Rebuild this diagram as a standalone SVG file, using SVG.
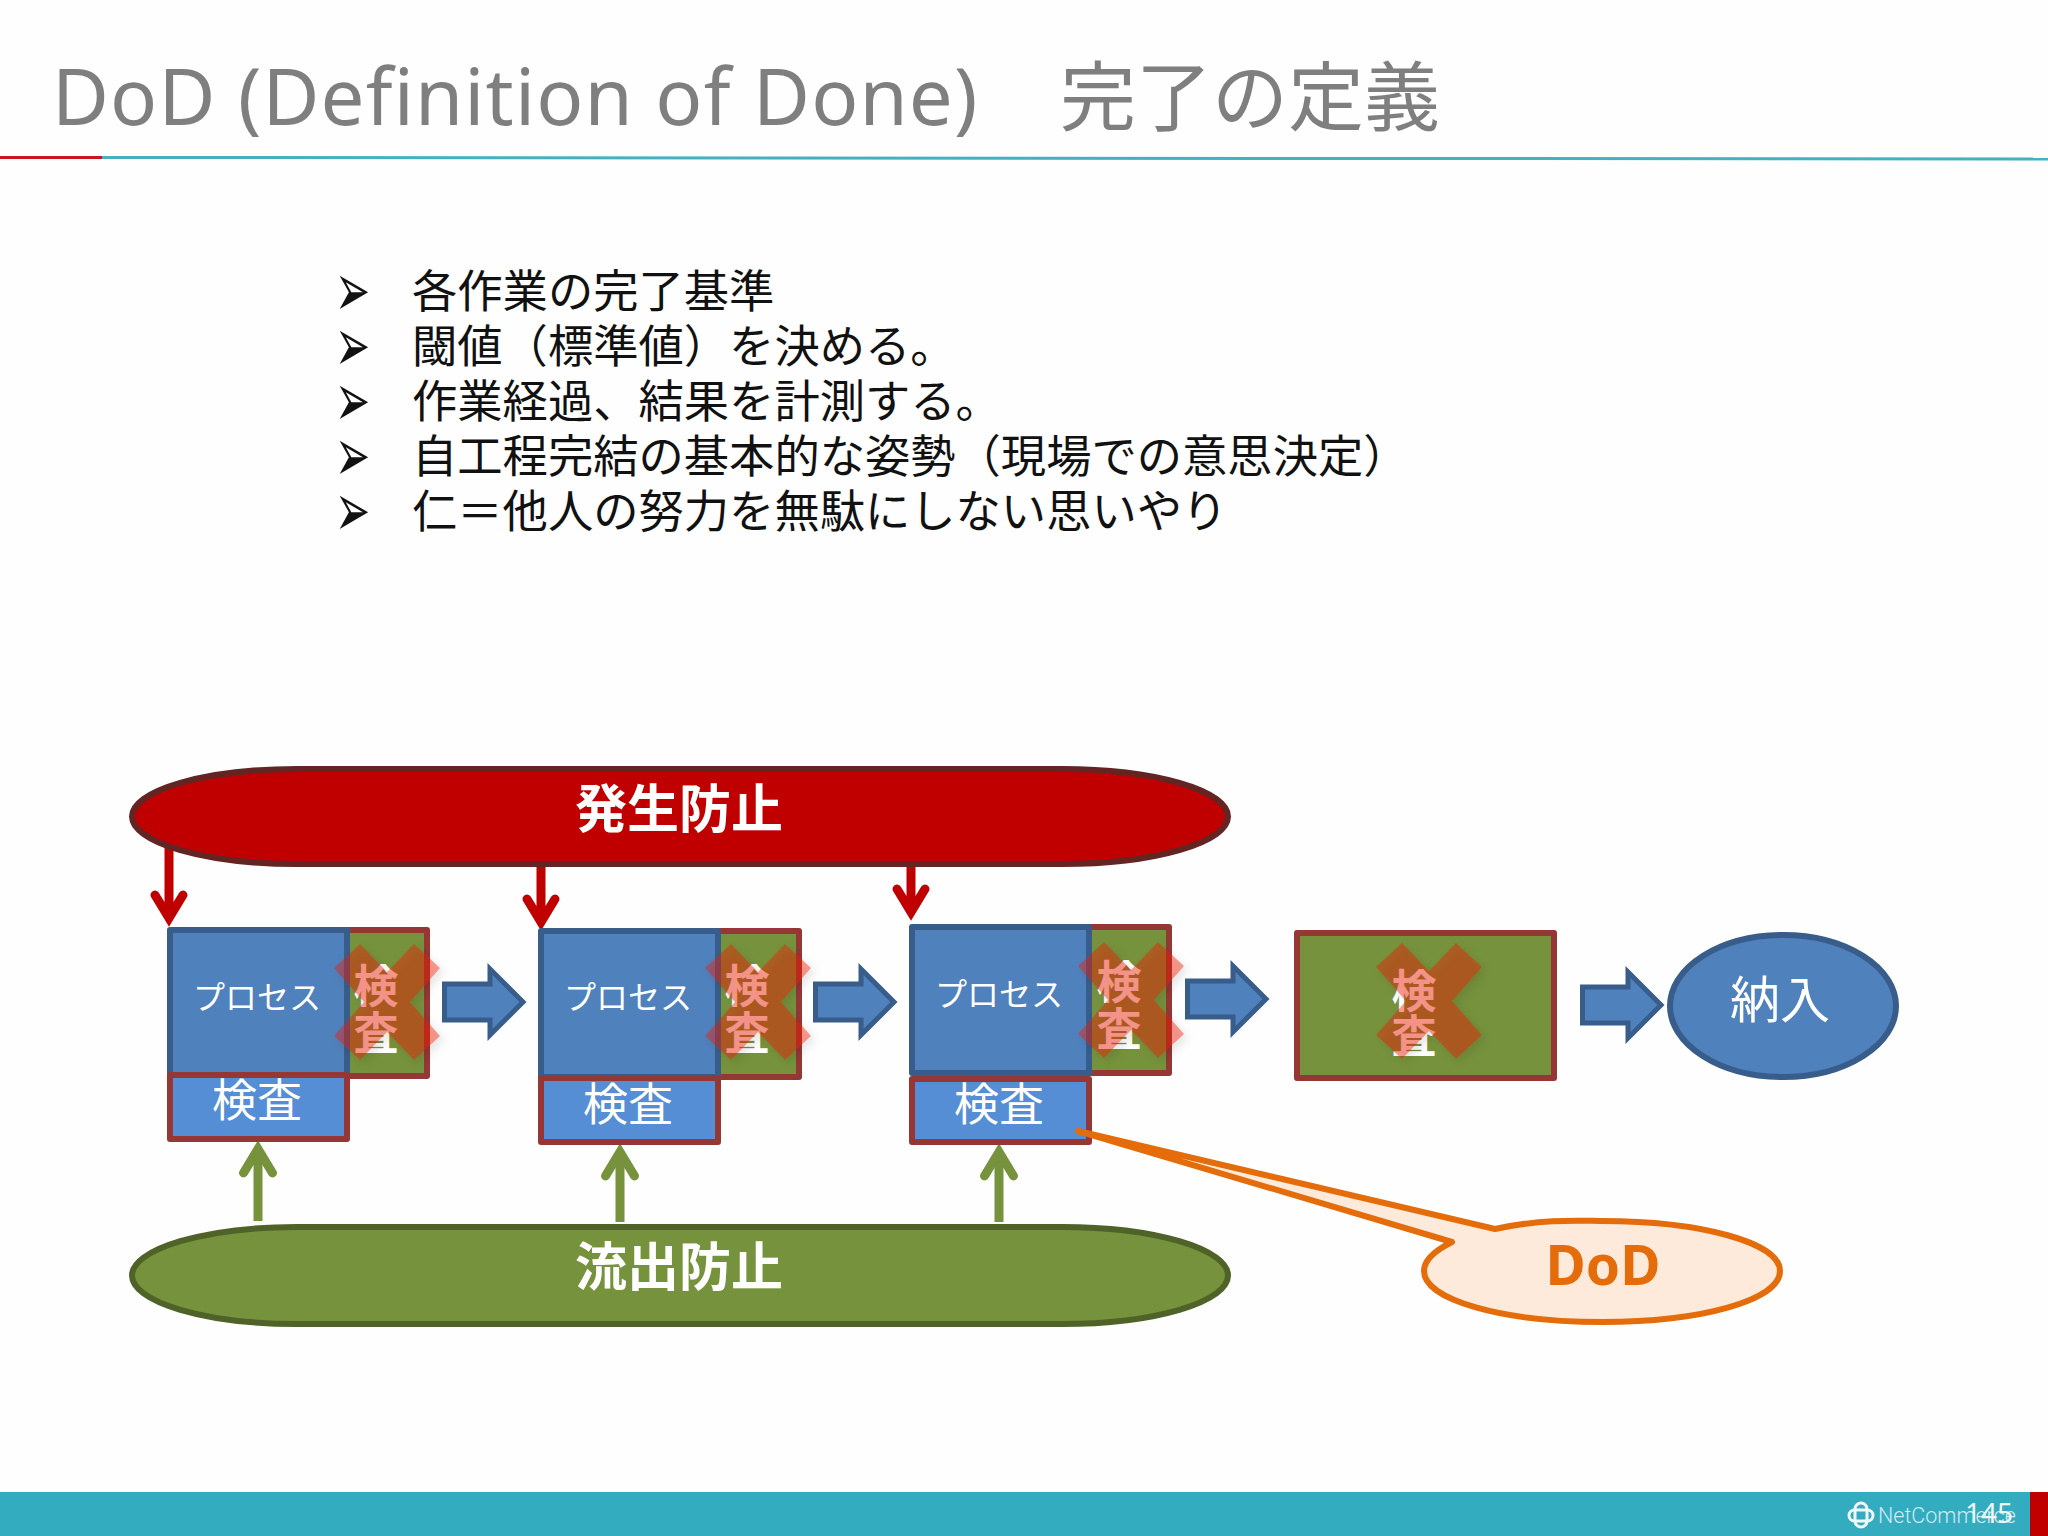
<svg xmlns="http://www.w3.org/2000/svg" width="2048" height="1536" viewBox="0 0 2048 1536">
<defs>
<style>
text{font-family:"Noto Sans","Noto Sans CJK JP",sans-serif}
.jp{font-family:"Noto Sans CJK JP","Noto Sans",sans-serif}
.bul{font-size:45.300px;fill:#111}
.mark{font-family:"DejaVu Sans",sans-serif;font-size:42px;fill:#111}
.c{text-anchor:middle;fill:#fff}
.proc{fill:#4f81bd;stroke:#385d8a;stroke-width:6;stroke-linejoin:round}
.insp{fill:#76923c;stroke:#953735;stroke-width:6;stroke-linejoin:round}
.small{fill:#558ed5;stroke:#953735;stroke-width:6;stroke-linejoin:round}
.block{fill:#4f81bd;stroke:#385d8a;stroke-width:5;stroke-linejoin:miter}
.red{fill:none;stroke:#c00000;stroke-width:9;stroke-linecap:round;stroke-linejoin:miter}
.grn{fill:none;stroke:#76923c;stroke-width:9;stroke-linecap:round;stroke-linejoin:miter}
.shaft{fill:none;stroke-width:9}
.x{fill:#f01c00;fill-opacity:.42;filter:url(#sh)}
.v{font-size:45px;font-weight:700}
.p{font-size:32px}
.k{font-size:45px}
.b{font-size:52px;font-weight:700}
</style>
<filter id="sh" x="-20%" y="-20%" width="150%" height="150%"><feDropShadow dx="4" dy="4" stdDeviation="4" flood-color="#000" flood-opacity=".22"/></filter>
<path id="xm" class="x" d="M-53,-34L-27,-58L0,-30L27,-58L53,-34L23,0L53,34L27,58L0,30L-27,58L-53,34L-23,0Z"/>
<path id="ar" class="block" d="M2.500,20H48V5L81,38L48,71V56H2.500Z"/>
</defs>
<rect width="2048" height="1536" fill="#fefefe"/>
<g id="header">
<text x="52" y="125" font-size="78" fill="#7f7f7f" letter-spacing="1.150">DoD (Definition of Done)</text>
<text class="jp" x="1060" y="125" font-size="76" fill="#7f7f7f">完了の定義</text>
<path d="M102,157.500L2048,159" stroke="#45b0bf" stroke-width="3" fill="none"/>
<path d="M0,157.500H102" stroke="#c8171e" stroke-width="3" fill="none"/>
</g>
<g id="bullets">
<text class="mark" transform="translate(335,316) scale(1,1.800)">➢</text><text class="bul jp" x="412" y="308">各作業の完了基準</text>
<text class="mark" transform="translate(335,371) scale(1,1.800)">➢</text><text class="bul jp" x="412" y="363">閾値（標準値）を決める。</text>
<text class="mark" transform="translate(335,426) scale(1,1.800)">➢</text><text class="bul jp" x="412" y="418">作業経過、結果を計測する。</text>
<text class="mark" transform="translate(335,481) scale(1,1.800)">➢</text><text class="bul jp" x="412" y="473">自工程完結の基本的な姿勢（現場での意思決定）</text>
<text class="mark" transform="translate(335,536) scale(1,1.800)">➢</text><text class="bul jp" x="412" y="528">仁＝他人の努力を無駄にしない思いやり</text>
</g>
<g id="connectors">
<path class="red" d="M169,835V918M155,895L169,918L183,895"/>
<path class="red" d="M541,850V922M527,899L541,922L555,899"/>
<path class="red" d="M911,850V912M897,889L911,912L925,889"/>
<path class="shaft" stroke="#76923c" d="M258,1221V1150"/><path class="grn" d="M243.500,1173L258,1149L272.500,1173"/>
<path class="shaft" stroke="#76923c" d="M620,1222V1153"/><path class="grn" d="M605.500,1176L620,1152L634.500,1176"/>
<path class="shaft" stroke="#76923c" d="M999,1222V1153"/><path class="grn" d="M984.500,1176L999,1152L1013.500,1176"/>
<use href="#ar" x="442" y="964"/>
<use href="#ar" x="813" y="964"/>
<use href="#ar" x="1185" y="961"/>
<use href="#ar" x="1580" y="967"/>
</g>
<g id="prevent">
<path d="M297,769H1062A166,47.500 0 0 1 1062,864H297A165,47.500 0 0 1 297,769Z" fill="#c00000" stroke="#632523" stroke-width="6"/>
<text class="c b jp" x="679" y="828">発生防止</text>
</g>
<g id="outflow">
<path d="M297,1227H1062A166,48.500 0 0 1 1062,1324H297A165,48.500 0 0 1 297,1227Z" fill="#76923c" stroke="#4f6228" stroke-width="6"/>
<text class="c b jp" x="679" y="1286">流出防止</text>
</g>
<g id="step1">
<rect class="insp" x="347" y="930" width="80" height="146"/>
<rect class="proc" x="170" y="930" width="177" height="145"/>
<rect class="small" x="170" y="1075" width="177" height="64"/>
<text class="c p jp" x="257" y="1009">プロセス</text>
<text class="c k jp" x="257" y="1117">検査</text>
<text class="c v jp" x="376" y="1003">検</text><text class="c v jp" x="376" y="1050">査</text>
<use href="#xm" x="387" y="1002"/>
</g>
<g id="step2">
<rect class="insp" x="718" y="931" width="81" height="146"/>
<rect class="proc" x="541" y="931" width="177" height="146"/>
<rect class="small" x="541" y="1078" width="177" height="64"/>
<text class="c p jp" x="628" y="1009">プロセス</text>
<text class="c k jp" x="628" y="1121">検査</text>
<text class="c v jp" x="747" y="1003">検</text><text class="c v jp" x="747" y="1050">査</text>
<use href="#xm" x="758" y="1002"/>
</g>
<g id="step3">
<rect class="insp" x="1089" y="927" width="80" height="146"/>
<rect class="proc" x="912" y="927" width="177" height="146"/>
<rect class="small" x="912" y="1079" width="177" height="63"/>
<text class="c p jp" x="999" y="1006">プロセス</text>
<text class="c k jp" x="999" y="1121">検査</text>
<text class="c v jp" x="1119" y="999">検</text><text class="c v jp" x="1119" y="1046">査</text>
<use href="#xm" x="1131" y="1000"/>
</g>
<g id="final-inspection">
<rect class="insp" x="1297" y="933" width="257" height="145"/>
<text class="c v jp" x="1414" y="1008">検</text><text class="c v jp" x="1414" y="1053">査</text>
<use href="#xm" x="1429" y="1001"/>
</g>
<g id="delivery">
<ellipse class="proc" cx="1783" cy="1006" rx="113" ry="71"/>
<text class="c jp" x="1780" y="1018" font-size="50">納入</text>
</g>
<g id="dod">
<path d="M1078,1131L1495,1229C1545,1218 1585,1221 1602,1221C1702,1221 1780,1243 1780,1271C1780,1300 1702,1322 1602,1322C1503,1322 1424,1300 1424,1271C1424,1260 1436,1250 1452,1242Z" fill="#fdeada" stroke="#e46c0a" stroke-width="6" stroke-linejoin="round"/>
<text x="1603" y="1285" text-anchor="middle" font-size="55" font-weight="700" fill="#e46c0a">DoD</text>
</g>
<g id="footer">
<rect y="1492" width="2048" height="44" fill="#34acc0"/>
<rect x="2030" y="1492" width="18" height="44" fill="#c00000"/>
<g fill="none" stroke="#eef8fa" stroke-width="3">
<rect x="1855" y="1503" width="12" height="24" rx="6"/>
<rect x="1849" y="1510" width="24" height="11" rx="5.500"/>
</g>
<text x="1878" y="1523" font-size="21.500" font-weight="300" fill="#cfeaf0" style="font-family:Roboto,sans-serif">NetCommerce</text>
<text x="1965" y="1523" font-size="28" fill="#eef6f6">145</text>
</g>
</svg>
